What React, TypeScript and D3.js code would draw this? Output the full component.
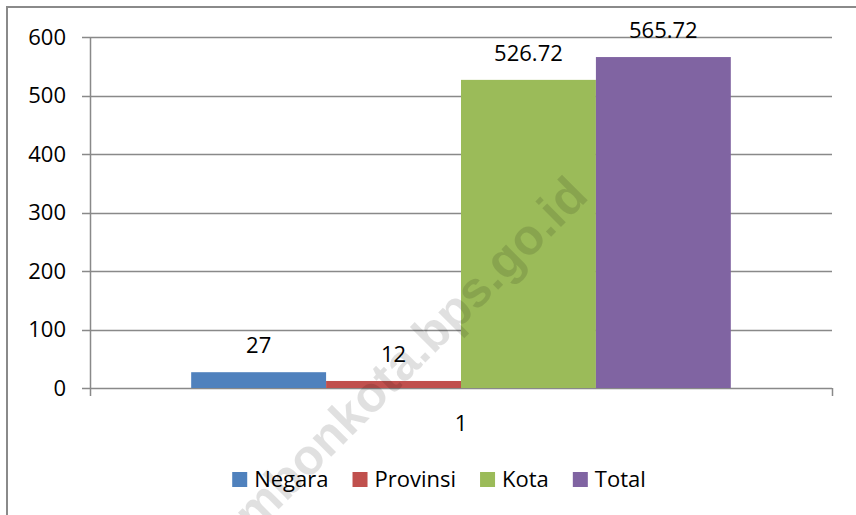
import React from "react";
import * as d3 from "d3";

const categories = ["1"];
const seriesNames = ["Negara", "Provinsi", "Kota", "Total"];
const seriesValues = [27, 12, 526.72, 565.72];
const seriesLabels = ["27", "12", "526.72", "565.72"];
const seriesColors = ["#4f81bd", "#c0504d", "#9bbb59", "#8064a2"];
const yTicks = [0, 100, 200, 300, 400, 500, 600];
const watermark = "ambonkota.bps.go.id";

const W = 856;
const H = 515;
const FONT = "'Open Sans', sans-serif";
const FS = 22;

function measure(text: string, font: string): number {
  const c = document.createElement("canvas");
  const ctx = c.getContext("2d")!;
  ctx.font = font;
  return ctx.measureText(text).width;
}

export default function App() {
  const plotLeft = 90;
  const plotRight = 832;
  const plotTop = 37;
  const plotBottom = 388;

  const y = d3.scaleLinear().domain([0, 600]).range([plotBottom, plotTop]);
  const xCat = d3.scaleBand().domain(categories).range([plotLeft, plotRight]).padding(0);
  const xSer = d3
    .scaleBand()
    .domain(seriesNames)
    .range([0, xCat.bandwidth()])
    .paddingInner(0)
    .paddingOuter(0.75);

  // legend layout
  const sq = 15;
  const sqGap = 7;
  const itemGap = 24;
  const widths = seriesNames.map((n) => measure(n, `${FS}px 'Open Sans'`));
  const total = widths.reduce((a, w) => a + sq + sqGap + w, 0) + itemGap * (seriesNames.length - 1);
  const legendCenter = 439;
  let cursor = legendCenter - total / 2;
  const legendItems = seriesNames.map((n, i) => {
    const x = cursor;
    cursor += sq + sqGap + widths[i] + itemGap;
    return { n, x, color: seriesColors[i] };
  });
  const legendY = 479.5;

  const gridColor = "#898989";

  return (
    <svg
      width={W}
      height={H}
      style={{ position: "absolute", left: 0, top: 0, background: "#fff" }}
      fontFamily={FONT}
    >
      <rect x={0} y={0} width={W} height={H} fill="#fff" />
      {/* outer chart frame (extends beyond the image right/bottom) */}
      <rect x={7} y={7} width={W + 20} height={H + 20} fill="none" stroke="#8a8a8a" strokeWidth={2} />

      {/* gridlines */}
      {yTicks.map((t) => (
        <line
          key={t}
          x1={82}
          x2={plotRight}
          y1={Math.round(y(t)) + 0.5}
          y2={Math.round(y(t)) + 0.5}
          stroke={gridColor}
          strokeWidth={1.5}
        />
      ))}
      {/* y axis */}
      <line x1={plotLeft + 0.5} x2={plotLeft + 0.5} y1={plotTop} y2={plotBottom + 8} stroke={gridColor} strokeWidth={1.5} />
      {/* x axis end tick */}
      <line x1={plotRight + 0.5} x2={plotRight + 0.5} y1={plotBottom} y2={plotBottom + 8} stroke={gridColor} strokeWidth={1.5} />

      {/* y tick labels */}
      {yTicks.map((t) => (
        <text key={t} x={66} y={y(t)} dy="0.36em" textAnchor="end" fontSize={FS} fill="#000">
          {t}
        </text>
      ))}

      {/* bars */}
      {categories.map((c) => (
        <g key={c} transform={`translate(${xCat(c)},0)`}>
          {seriesNames.map((s, i) => (
            <rect
              key={s}
              x={xSer(s)}
              y={y(seriesValues[i])}
              width={xSer.bandwidth()}
              height={y(0) - y(seriesValues[i])}
              fill={seriesColors[i]}
            />
          ))}
          {seriesNames.map((s, i) => (
            <text
              key={s + "l"}
              x={(xSer(s) as number) + xSer.bandwidth() / 2}
              y={y(seriesValues[i]) - 19}
              textAnchor="middle"
              fontSize={FS}
              fill="#000"
            >
              {seriesLabels[i]}
            </text>
          ))}
          <text x={xCat.bandwidth() / 2} y={423} dy="0.36em" textAnchor="middle" fontSize={FS} fill="#000">
            {c}
          </text>
        </g>
      ))}

      {/* legend */}
      {legendItems.map((it) => (
        <g key={it.n}>
          <rect x={it.x} y={legendY - sq / 2} width={sq} height={sq} fill={it.color} />
          <text x={it.x + sq + sqGap} y={legendY} dy="0.36em" fontSize={FS} fill="#000">
            {it.n}
          </text>
        </g>
      ))}

      {/* watermark */}
      <text
        transform={`translate(590,198) rotate(-45)`}
        textAnchor="end"
        fontFamily="'Liberation Sans', Arial, sans-serif"
        fontWeight="bold"
        fontSize={50}
        fill="#000"
        fillOpacity={0.12}
      >
        {watermark}
      </text>
    </svg>
  );
}
